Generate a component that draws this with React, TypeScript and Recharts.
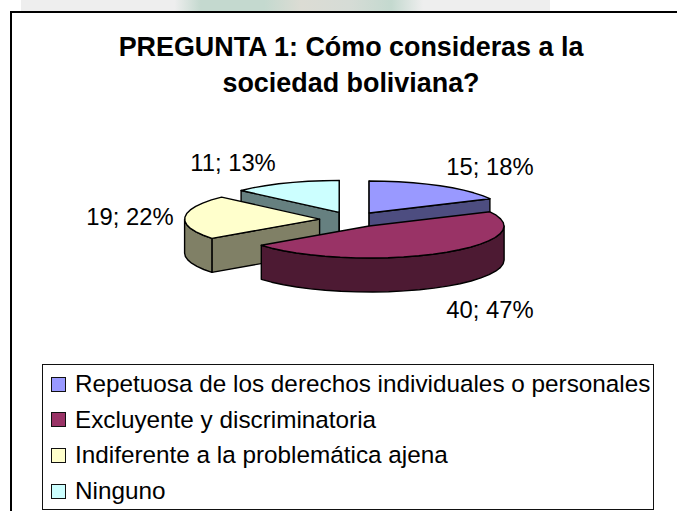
import React from 'react';
import { PieChart, Pie, Legend } from 'recharts';

const categories = [
  'Repetuosa de los derechos individuales o personales',
  'Excluyente y discriminatoria',
  'Indiferente a la problemática ajena',
  'Ninguno',
];
const values = [15, 40, 19, 11];
const topColors = ['#9999ff', '#993366', '#ffffcc', '#ccffff'];
const sideColors = ['#4d4d80', '#4d1a33', '#808066', '#668080'];
// back to front, so the nearer slices cover the walls of the further ones
const drawOrder = [3, 0, 2, 1];
const labelShift = [
  [138, -53],
  [138, 90],
  [-222, -3],
  [-119, -57],
];

const W = 677;
const H = 511;
const CX = 352;
const CY = 219.5;
const RX = 135;
const RY = 32;
const DEPTH = 34;
const EXPLODE = 0.24;
const FONT = '"Liberation Sans", Arial, sans-serif';

const chartData = categories.map((name, i) => ({ name, value: values[i], idx: i }));

// clockwise-from-top angle -> point on the flattened rim
function rim(ox: number, oy: number, theta: number) {
  const t = (theta * Math.PI) / 180;
  return [ox + RX * Math.sin(t), oy - RY * Math.cos(t)];
}

function pts(list: number[][]) {
  return list.map((p) => `${p[0].toFixed(1)},${p[1].toFixed(1)}`).join(' ');
}

function arc(ox: number, oy: number, a: number, b: number) {
  const out: number[][] = [];
  const n = Math.max(1, Math.ceil((b - a) / 7));
  for (let i = 0; i <= n; i++) out.push(rim(ox, oy, a + ((b - a) * i) / n));
  return out;
}

function makeSlice(layer: number) {
  return function Slice(props: any) {
    if (props.idx !== layer) return <g />;
    const a = 90 - props.startAngle;
    const b = 90 - props.endAngle;
    const mid = (a + b) / 2;
    const [ox, oy] = rim(props.cx, props.cy, mid).map((v, i) =>
      i === 0 ? props.cx + (v - props.cx) * EXPLODE : props.cy + (v - props.cy) * EXPLODE
    );
    const side = sideColors[props.idx];
    const wallProps = { fill: side, stroke: '#000', strokeWidth: 1.4, strokeLinejoin: 'round' as const };
    const apex = [ox, oy];
    const down = (p: number[]) => [p[0], p[1] + DEPTH];

    const startWall = Math.sin((a * Math.PI) / 180) < -1e-6 || a === 0;
    const endWall = Math.sin((b * Math.PI) / 180) > 1e-6 || b === 360;
    const from = Math.max(a, 90);
    const to = Math.min(b, 270);
    const front = from < to ? arc(ox, oy, from, to) : null;

    return (
      <g>
        {startWall && (
          <polygon points={pts([apex, rim(ox, oy, a), down(rim(ox, oy, a)), down(apex)])} {...wallProps} />
        )}
        {endWall && (
          <polygon points={pts([apex, rim(ox, oy, b), down(rim(ox, oy, b)), down(apex)])} {...wallProps} />
        )}
        {front && <polygon points={pts([...front, ...front.map(down).reverse()])} {...wallProps} />}
        <polygon
          points={pts([apex, ...arc(ox, oy, a, b)])}
          fill={topColors[props.idx]}
          stroke="#000"
          strokeWidth={1.4}
          strokeLinejoin="round"
        />
      </g>
    );
  };
}

function renderLabel(props: any) {
  const shift = labelShift[props.idx];
  return (
    <text
      x={props.cx + shift[0]}
      y={props.cy + shift[1]}
      textAnchor="middle"
      dominantBaseline="central"
      fontFamily={FONT}
      fontSize={23.8}
      fill="#000"
    >
      {`${props.value}; ${Math.round(props.percent * 100)}%`}
    </text>
  );
}

function LegendBox() {
  return (
    <div
      style={{
        boxSizing: 'border-box',
        width: 612,
        height: 146,
        border: '1px solid #111',
        background: '#fff',
        fontFamily: FONT,
        fontSize: 24.3,
        color: '#000',
        paddingTop: 2,
      }}
    >
      {categories.map((name, i) => (
        <div key={name} style={{ display: 'flex', alignItems: 'center', height: 35.6, whiteSpace: 'nowrap' }}>
          <span
            style={{
              display: 'inline-block',
              boxSizing: 'border-box',
              width: 15,
              height: 15,
              marginLeft: 8,
              marginRight: 9,
              border: '1px solid #111',
              background: topColors[i],
            }}
          />
          {name}
        </div>
      ))}
    </div>
  );
}

export default function App() {
  return (
    <div style={{ position: 'absolute', left: 0, top: 0, width: W, height: H, overflow: 'hidden', background: '#fff' }}>
      <div
        style={{
          position: 'absolute',
          left: 21,
          top: 0,
          width: 529,
          height: 12,
          background:
            'linear-gradient(90deg, #eeeeee 0%, #eeeeee 29%, #c4d9cf 34%, #c4d9cf 46%, #dcdcd4 53%, #d6dcd6 62%, #c4d9cf 70%, #eeeeee 76%, #eeeeee 100%)',
        }}
      />
      <div
        style={{
          position: 'absolute',
          left: 10,
          top: 11,
          width: W,
          height: H,
          borderLeft: '2px solid #000',
          borderTop: '2px solid #000',
          boxSizing: 'border-box',
          background: '#fff',
        }}
      />
      <div
        style={{
          position: 'absolute',
          left: 0,
          width: W,
          top: 29,
          textAlign: 'center',
          fontFamily: FONT,
          fontWeight: 700,
          fontSize: 26.9,
          lineHeight: '36px',
          color: '#000',
          paddingLeft: 25,
          boxSizing: 'border-box',
        }}
      >
        PREGUNTA 1: Cómo consideras a la
        <br />
        sociedad boliviana?
      </div>
      <div style={{ position: 'absolute', left: 0, top: 0 }}>
        <PieChart width={W} height={H} margin={{ top: 0, right: 0, bottom: 0, left: 0 }}>
          {drawOrder.map((layer, i) => (
            <Pie
              key={layer}
              data={chartData}
              dataKey="value"
              nameKey="name"
              cx={CX}
              cy={CY}
              innerRadius={0}
              outerRadius={RX}
              startAngle={90}
              endAngle={-270}
              paddingAngle={0}
              shape={makeSlice(layer)}
              label={i === drawOrder.length - 1 ? renderLabel : false}
              labelLine={false}
              legendType="none"
              isAnimationActive={false}
            />
          ))}
          <Legend
            content={<LegendBox />}
            wrapperStyle={{ position: 'absolute', left: 42, top: 363.5, width: 612, height: 146, bottom: 'auto' }}
          />
        </PieChart>
      </div>
    </div>
  );
}
